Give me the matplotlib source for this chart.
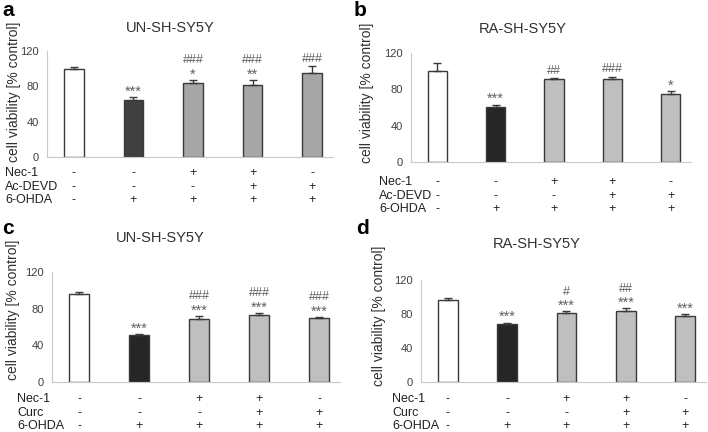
import matplotlib.pyplot as plt
import numpy as np

plt.rcParams['font.family'] = ['Liberation Sans', 'DejaVu Sans']

# data
titles = ["UN-SH-SY5Y", "RA-SH-SY5Y", "UN-SH-SY5Y", "RA-SH-SY5Y"]
letters = ["a", "b", "c", "d"]
means_a = [100, 65, 84, 82, 95]
errs_a = [2, 2.5, 3, 5, 8]
means_b = [100, 61, 91, 91, 75]
errs_b = [9, 2, 1, 3, 3]
means_c = [96, 51, 69, 73, 70]
errs_c = [2.5, 1, 3, 2, 1]
means_d = [96, 68, 81, 83, 78]
errs_d = [3, 2, 2, 3.5, 2]
stars_a = ["", "***", "*", "**", ""]
hash_a = ["", "", "###", "###", "###"]
stars_b = ["", "***", "", "", "*"]
hash_b = ["", "", "##", "###", ""]
stars_c = ["", "***", "***", "***", "***"]
hash_c = ["", "", "###", "###", "###"]
stars_d = ["", "***", "***", "***", "***"]
hash_d = ["", "", "#", "##", ""]
row_labels_ab = ["Nec-1", "Ac-DEVD", "6-OHDA"]
row_labels_cd = ["Nec-1", "Curc", "6-OHDA"]
rows = [["-", "-", "+", "+", "-"],
        ["-", "-", "-", "+", "+"],
        ["-", "+", "+", "+", "+"]]
yticks = [0, 40, 80, 120]

W, H = 708, 432
fig = plt.figure(figsize=(W / 100, H / 100), dpi=100)

def px_axes(l, t, r, b):
    return fig.add_axes([l / W, 1 - b / H, (r - l) / W, (b - t) / H])

panels = [
    # means, errs, stars, hashes, rowlabels, box(l,t,r,b), colors, rows y,
    # label x, title xy, letter xy, ylabel xy
    (means_a, errs_a, stars_a, hash_a, row_labels_ab, (47, 51, 333, 157),
     ["white", "#404040", "#a6a6a6"], [173, 187, 200], 5, (170, 28), (2, 11), (14, 92)),
    (means_b, errs_b, stars_b, hash_b, row_labels_ab, (411, 53, 691, 162),
     ["white", "#262626", "#bfbfbf"], [182, 196, 209], 379, (523, 29), (354, 11), (367, 93)),
    (means_c, errs_c, stars_c, hash_c, row_labels_cd, (52, 272, 340, 382),
     ["white", "#262626", "#bfbfbf"], [399, 413, 426], 17, (160, 238), (2, 229), (13, 310)),
    (means_d, errs_d, stars_d, hash_d, row_labels_cd, (421, 280, 706, 382),
     ["white", "#262626", "#bfbfbf"], [399, 413, 426], 392, (537, 244), (356, 229), (379, 316)),
]

x = np.arange(5)
for i, (m, e, st, hs, rl, box, cols, ry, lx, txy, lxy, yl) in enumerate(panels):
    ax = px_axes(*box)
    colors = [cols[0], cols[1], cols[2], cols[2], cols[2]]
    ax.bar(x, m, width=0.33, color=colors, edgecolor="#3a3a3a", linewidth=1.0, zorder=2)
    ax.errorbar(x, m, yerr=[np.zeros(5), e], fmt="none", ecolor="#3a3a3a",
                elinewidth=1.0, capsize=3, capthick=1.0, zorder=3)
    ax.set_xlim(-0.45, 4.35)
    ax.set_ylim(0, 120)
    ax.set_yticks(yticks)
    ax.set_xticks([])
    ax.tick_params(axis="y", length=0, labelsize=8, labelcolor="#404040", pad=6)
    for s in ["top", "right"]:
        ax.spines[s].set_visible(False)
    ax.spines["left"].set_color("#c8c8c8")
    ax.spines["bottom"].set_color("#c8c8c8")
    fig.text(yl[0] / W, 1 - yl[1] / H, "cell viability [% control]", fontsize=10,
             color="#303030", rotation=90, ha="center", va="center")
    for j in range(5):
        top = m[j] + e[j]
        if st[j]:
            ax.annotate(st[j], (x[j], top), xytext=(0, -1), textcoords="offset points",
                        ha="center", va="bottom", fontsize=10.5, color="#606060")
        if hs[j]:
            off = 10 if st[j] else 1
            ax.annotate(hs[j], (x[j], top), xytext=(0, off), textcoords="offset points",
                        ha="center", va="bottom", fontsize=9, color="#606060")
    for r in range(3):
        yf = 1 - ry[r] / H
        fig.text(lx / W, yf, rl[r], fontsize=9, color="#202020", va="center", ha="left")
        for j in range(5):
            ax.annotate(rows[r][j], (x[j], yf), xycoords=("data", "figure fraction"),
                        ha="center", va="center", fontsize=9, color="#202020",
                        annotation_clip=False)
    fig.text(txy[0] / W, 1 - txy[1] / H, titles[i], fontsize=10.5, color="#303030",
             ha="center", va="center")
    fig.text(lxy[0] / W, 1 - lxy[1] / H, letters[i], fontsize=15, fontweight="bold",
             ha="left", va="center")

fig.savefig("out.png", dpi=100)
